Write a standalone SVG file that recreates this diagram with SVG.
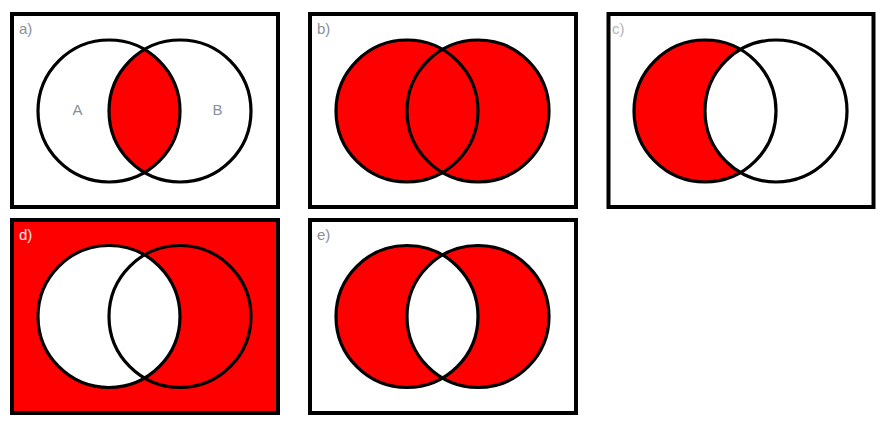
<svg xmlns="http://www.w3.org/2000/svg" width="888" height="425" viewBox="0 0 888 425">
<style>
.frame{fill:#fff;stroke:#000;stroke-width:4}
.ring{fill:none;stroke:#000;stroke-width:3.2}
.red{fill:#ff0000}
.wh{fill:#fff}
.lbl{font-family:"Liberation Sans",Arial,sans-serif;font-size:15px;fill:#8a9099}
.set{font-family:"Liberation Sans",Arial,sans-serif;font-size:15px;fill:#8a9099;text-anchor:middle}
</style>
<rect width="888" height="425" fill="#fff"/>
<g id="panel-a">
<rect class="frame" x="12" y="14" width="266" height="193"/>
<path class="red" d="M144.5,49.51 A71,71 0 0,1 144.5,172.49 A71,71 0 0,1 144.5,49.51 Z"/>
<circle class="ring" cx="109" cy="111" r="71"/>
<circle class="ring" cx="180" cy="111" r="71"/>
<text class="lbl" x="19" y="34">a)</text>
<text class="set" x="77.5" y="115">A</text>
<text class="set" x="217.5" y="115">B</text>
</g>
<g id="panel-b">
<rect class="frame" x="310" y="14" width="266" height="193"/>
<circle class="red" cx="407" cy="111" r="71"/>
<circle class="red" cx="478" cy="111" r="71"/>
<circle class="ring" cx="407" cy="111" r="71"/>
<circle class="ring" cx="478" cy="111" r="71"/>
<text class="lbl" x="317" y="34">b)</text>
</g>
<g id="panel-c">
<rect class="frame" x="608.5" y="14" width="265" height="193"/>
<path class="red" d="M740.5,49.51 A71,71 0 1,0 740.5,172.49 A71,71 0 0,1 740.5,49.51 Z"/>
<circle class="ring" cx="705" cy="111" r="71"/>
<circle class="ring" cx="776" cy="111" r="71"/>
<text class="lbl" x="612" y="34" style="fill:#b5b5b5">c)</text>
</g>
<g id="panel-d">
<rect class="frame" x="12" y="220" width="266" height="193" style="fill:#ff0000"/>
<circle class="wh" cx="109" cy="316.5" r="71"/>
<circle class="ring" cx="109" cy="316.5" r="71"/>
<circle class="ring" cx="180" cy="316.5" r="71"/>
<text class="lbl" x="19" y="240" style="fill:#ffe8e8">d)</text>
</g>
<g id="panel-e">
<rect class="frame" x="310" y="220" width="266" height="193"/>
<circle class="red" cx="407" cy="316.5" r="71"/>
<circle class="red" cx="478" cy="316.5" r="71"/>
<path class="wh" d="M442.5,255.01 A71,71 0 0,1 442.5,377.99 A71,71 0 0,1 442.5,255.01 Z"/>
<circle class="ring" cx="407" cy="316.5" r="71"/>
<circle class="ring" cx="478" cy="316.5" r="71"/>
<text class="lbl" x="317" y="240">e)</text>
</g>
</svg>
